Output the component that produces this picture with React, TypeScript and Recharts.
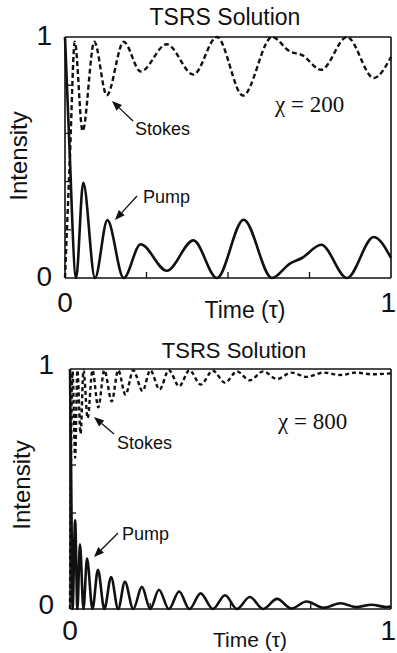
import React from 'react';
import { LineChart, Line, XAxis, YAxis } from 'recharts';

const xTicks = [0, 0.25, 0.5, 0.75, 1];
const yTicks = [0, 0.2, 0.4, 0.6, 0.8, 1];

// chi = 200
const pumpT200 = [0, 0.012, 0.034, 0.056, 0.092, 0.13, 0.18, 0.232, 0.312, 0.394, 0.466, 0.548, 0.635, 0.69, 0.727, 0.786, 0.865, 0.947, 1];
const pump200 = [1, 0.6, 0, 0.395, 0, 0.24, 0, 0.14, 0.03, 0.156, 0, 0.242, 0, 0.06, 0.083, 0.138, 0, 0.17, 0.083];
const stokesT200 = [0, 0.015, 0.03, 0.054, 0.09, 0.128, 0.18, 0.232, 0.312, 0.394, 0.466, 0.546, 0.635, 0.69, 0.727, 0.786, 0.865, 0.947, 1];
const stokes200 = [0, 0.5, 0.98, 0.61, 0.98, 0.758, 0.98, 0.857, 0.97, 0.844, 1, 0.757, 1, 0.94, 0.925, 0.864, 1, 0.83, 0.917];

// chi = 800
const pumpT800 = [0, 0.004, 0.008, 0.016, 0.023, 0.031, 0.042, 0.053, 0.07, 0.087, 0.107, 0.128, 0.15, 0.171, 0.197, 0.224, 0.25, 0.277, 0.308, 0.34, 0.372, 0.407, 0.445, 0.483, 0.52, 0.56, 0.602, 0.645, 0.69, 0.737, 0.79, 0.843, 0.89, 0.94, 0.985, 1];
const pump800 = [1, 0.5, 0, 0.37, 0, 0.27, 0, 0.21, 0, 0.163, 0, 0.133, 0, 0.113, 0, 0.092, 0, 0.08, 0, 0.073, 0, 0.065, 0, 0.057, 0, 0.05, 0, 0.042, 0.002, 0.031, 0.005, 0.024, 0.008, 0.018, 0.008, 0.01];
const stokesT800 = [0, 0.003, 0.008, 0.016, 0.023, 0.033, 0.042, 0.055, 0.07, 0.088, 0.107, 0.13, 0.15, 0.173, 0.197, 0.226, 0.25, 0.279, 0.308, 0.34, 0.372, 0.407, 0.445, 0.483, 0.52, 0.56, 0.602, 0.645, 0.69, 0.737, 0.79, 0.843, 0.89, 0.94, 1];
const stokes800 = [0, 0.6, 0.99, 0.63, 0.995, 0.73, 0.995, 0.795, 0.995, 0.84, 0.995, 0.865, 0.995, 0.893, 0.995, 0.908, 0.995, 0.915, 0.995, 0.928, 0.995, 0.935, 0.993, 0.943, 0.99, 0.953, 0.99, 0.958, 0.985, 0.967, 0.985, 0.975, 0.985, 0.978, 0.982];

const zip = (ts: number[], vs: number[]) => ts.map((t, k) => ({ t, v: vs[k] }));

const SANS = '"Liberation Sans", Arial, Helvetica, sans-serif';
const SERIF = '"Liberation Serif", "Times New Roman", serif';
const INK = '#111';

const isEdge = (v: number) => v === 0 || v === 1;

const makeBottomTick = (dy: number) => (props: any) => {
  const { x, y, payload } = props;
  const v = payload.value;
  return (
    <g>
      {!isEdge(v) && <line x1={x} y1={y} x2={x} y2={y - 6} stroke={INK} strokeWidth={1.3} />}
      {v === 0 && (
        <text x={x} y={y + dy} textAnchor="middle" fontSize={28} fontFamily={SANS} fill={INK}>0</text>
      )}
      {v === 1 && (
        <text x={396} y={y + dy} textAnchor="end" fontSize={28} fontFamily={SANS} fill={INK}>1</text>
      )}
    </g>
  );
};

const TopTick = (props: any) => {
  const { x, y, payload } = props;
  if (isEdge(payload.value)) return <g />;
  return <line x1={x} y1={y} x2={x} y2={y + 6} stroke={INK} strokeWidth={1.3} />;
};

const makeLeftTick = (gap: number, dy: number) => (props: any) => {
  const { x, y, payload } = props;
  const v = payload.value;
  return (
    <g>
      {!isEdge(v) && <line x1={x} y1={y} x2={x + 6} y2={y} stroke={INK} strokeWidth={1.3} />}
      {isEdge(v) && (
        <text x={x - gap} y={y + dy} textAnchor="end" fontSize={28} fontFamily={SANS} fill={INK}>{v}</text>
      )}
    </g>
  );
};

const RightTick = (props: any) => {
  const { x, y, payload } = props;
  if (isEdge(payload.value)) return <g />;
  return <line x1={x} y1={y} x2={x - 6} y2={y} stroke={INK} strokeWidth={1.3} />;
};

type PanelProps = {
  top: number;
  height: number;
  margin: { top: number; right: number; bottom: number; left: number };
  pump: { t: number; v: number }[];
  stokes: { t: number; v: number }[];
  xLabelDy: number;
  yLabelGap: number;
  yLabelDy: number;
  dash: string;
};

// axes take 1px each (a zero-size axis is not drawn), so the margins are 1px smaller than the frame offsets
const Panel = ({ top, height, margin, pump, stokes, xLabelDy, yLabelGap, yLabelDy, dash }: PanelProps) => {
  const frame = { stroke: INK, strokeWidth: 1.6 };
  const m = { top: margin.top - 1, right: margin.right - 1, bottom: margin.bottom - 1, left: margin.left - 1 };
  return (
    <div style={{ position: 'absolute', left: 0, top, width: 397, height }}>
      <LineChart width={397} height={height} margin={m} style={{ overflow: 'visible' }}>
        <XAxis xAxisId="b" type="number" dataKey="t" domain={[0, 1]} ticks={xTicks} interval={0} height={1}
          tickSize={0} tickMargin={0} tickLine={false} axisLine={frame} tick={makeBottomTick(xLabelDy)} />
        <XAxis xAxisId="t" orientation="top" type="number" dataKey="t" domain={[0, 1]} ticks={xTicks} interval={0} height={1}
          tickSize={0} tickMargin={0} tickLine={false} axisLine={frame} tick={TopTick} />
        <YAxis yAxisId="l" type="number" domain={[0, 1]} ticks={yTicks} interval={0} width={1}
          tickSize={0} tickMargin={0} tickLine={false} axisLine={frame} tick={makeLeftTick(yLabelGap, yLabelDy)} />
        <YAxis yAxisId="r" orientation="right" type="number" domain={[0, 1]} ticks={yTicks} interval={0} width={1}
          tickSize={0} tickMargin={0} tickLine={false} axisLine={frame} tick={RightTick} />
        <Line xAxisId="b" yAxisId="l" data={stokes} dataKey="v" type="monotone" stroke={INK} strokeWidth={2.4}
          strokeDasharray={dash} dot={false} isAnimationActive={false} />
        <Line xAxisId="b" yAxisId="l" data={pump} dataKey="v" type="monotone" stroke={INK} strokeWidth={2.6}
          dot={false} isAnimationActive={false} />
      </LineChart>
    </div>
  );
};

const Arrow = ({ x1, y1, x2, y2 }: { x1: number; y1: number; x2: number; y2: number }) => {
  const a = Math.atan2(y2 - y1, x2 - x1);
  const len = 10;
  const w = 4;
  const bx = x2 - len * Math.cos(a);
  const by = y2 - len * Math.sin(a);
  const px = -Math.sin(a) * w;
  const py = Math.cos(a) * w;
  return (
    <g>
      <line x1={x1} y1={y1} x2={bx} y2={by} stroke={INK} strokeWidth={1.3} />
      <polygon points={`${x2},${y2} ${bx + px},${by + py} ${bx - px},${by - py}`} fill={INK} />
    </g>
  );
};

export default function App() {
  return (
    <div style={{ position: 'absolute', left: 0, top: 0, width: 397, height: 653, background: '#fff', overflow: 'hidden' }}>
      <Panel top={0} height={325} margin={{ top: 37, right: 6, bottom: 47, left: 65 }}
        pump={zip(pumpT200, pump200)} stokes={zip(stokesT200, stokes200)}
        xLabelDy={34} yLabelGap={13} yLabelDy={8} dash="5 3" />
      <Panel top={325} height={328} margin={{ top: 44, right: 6, bottom: 44, left: 70 }}
        pump={zip(pumpT800, pump800)} stokes={zip(stokesT800, stokes800)}
        xLabelDy={31} yLabelGap={16} yLabelDy={5} dash="4 3" />
      <svg width={397} height={653} style={{ position: 'absolute', left: 0, top: 0, pointerEvents: 'none' }}>
        <g fontFamily={SANS} fill={INK}>
          <text x={225} y={25} textAnchor="middle" fontSize={23}>TSRS Solution</text>
          <text x={245} y={318} textAnchor="middle" fontSize={23}>Time (τ)</text>
          <text transform="translate(27,156) rotate(-90)" textAnchor="middle" fontSize={24}>Intensity</text>
          <text x={135} y={135} fontSize={18}>Stokes</text>
          <text x={143} y={203} fontSize={18}>Pump</text>

          <text x={234} y={358} textAnchor="middle" fontSize={22}>TSRS Solution</text>
          <text x={250} y={647} textAnchor="middle" fontSize={21}>Time (τ)</text>
          <text transform="translate(30,485) rotate(-90)" textAnchor="middle" fontSize={24}>Intensity</text>
          <text x={117} y={449} fontSize={18}>Stokes</text>
          <text x={122} y={540} fontSize={18}>Pump</text>
        </g>
        <g fontFamily={SERIF} fill={INK}>
          <text x={275} y={112} fontSize={23}>χ = 200</text>
          <text x={278} y={429} fontSize={23}>χ = 800</text>
        </g>
        <Arrow x1={133} y1={121} x2={112} y2={101} />
        <Arrow x1={137} y1={196} x2={115} y2={220} />
        <Arrow x1={114} y1={434} x2={94} y2={417} />
        <Arrow x1={118} y1={533} x2={94} y2={557} />
      </svg>
    </div>
  );
}
